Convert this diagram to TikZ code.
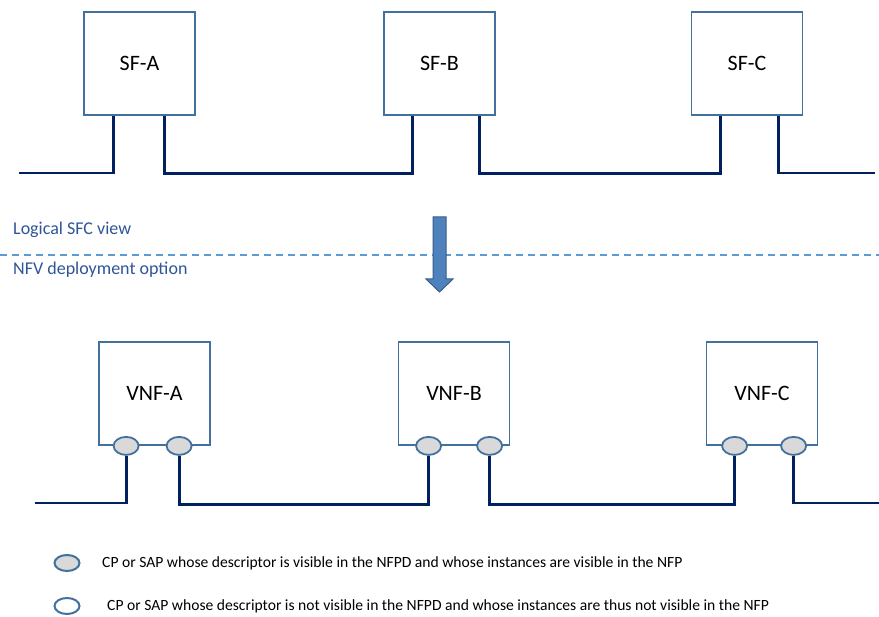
\documentclass[tikz,border=0pt]{standalone}
\usepackage{fontspec}
\setmainfont{Carlito}
\usetikzlibrary{shapes.geometric,calc}
\definecolor{boxc}{HTML}{41719C}
\definecolor{wirec}{HTML}{002060}
\definecolor{lblc}{HTML}{2F5597}
\definecolor{dashc}{HTML}{5B9BD5}
\definecolor{arrf}{HTML}{4F81BD}
\definecolor{arrd}{HTML}{385D8A}
\definecolor{portf}{HTML}{D9D9D9}
\begin{document}
\begin{tikzpicture}[x=1pt,y=-1pt,
  fbox/.style={draw=boxc,line width=1.8pt,fill=white,minimum width=111pt,minimum height=103pt,inner sep=0pt,font=\fontsize{22}{24}\selectfont},
  wire/.style={draw=wirec,line width=2.8pt,line join=miter},
  port/.style={ellipse,draw=boxc,line width=1.8pt,fill=portf,minimum width=25pt,minimum height=18pt,inner sep=0pt},
  oport/.style={ellipse,draw=boxc,line width=2pt,fill=white,minimum width=25pt,minimum height=16pt,inner sep=0pt},
  lgport/.style={ellipse,draw=boxc,line width=2pt,fill=portf,minimum width=25pt,minimum height=16pt,inner sep=0pt},
  viewlbl/.style={anchor=west,text=lblc,inner sep=0pt,font=\fontsize{18}{20}\selectfont},
  legtxt/.style={anchor=west,inner sep=0pt,font=\fontsize{15.6}{17}\selectfont}]
\useasboundingbox (0,0) rectangle (879,617);
\fill[white] (0,0) rectangle (879,617);

% top row
\node[fbox] (sfa) at (139.5,63.5) {SF-A};
\node[fbox] (sfb) at (439.5,63.5) {SF-B};
\node[fbox] (sfc) at (747,63.5) {SF-C};
\coordinate (sfal) at ($(sfa.south west)+(30,0)$);
\coordinate (sfar) at ($(sfa.south west)+(81,0)$);
\coordinate (sfbl) at ($(sfb.south west)+(29,0)$);
\coordinate (sfbr) at ($(sfb.south west)+(96,0)$);
\coordinate (sfcl) at ($(sfc.south west)+(30,0)$);
\coordinate (sfcr) at ($(sfc.south west)+(88,0)$);
\coordinate (t0) at (19,173);
\coordinate (t1) at (875,173);
\draw[wire] (t0) -| (sfal);
\draw[wire] (sfar) -- ++(0,58) -| (sfbl);
\draw[wire] (sfbr) -- ++(0,58) -| (sfcl);
\draw[wire] (sfcr) |- (t1);

% separator
\node[viewlbl] (lv) at (13,230) {Logical SFC view};
\node[viewlbl] (nv) at (13,270) {NFV deployment option};
\coordinate (d0) at (0,255);
\coordinate (d1) at (879,255);
\draw[dashc,line width=1.3pt,dash pattern=on 7pt off 5pt] (d0) -- (d1);
\draw[fill=arrf,draw=arrd,line width=1pt,line join=miter]
  (433,217) -- (446,217) -- (446,279) -- (453,279) -- (439.5,292) -- (426,279) -- (433,279) -- cycle;

% bottom row
\node[fbox] (vnfa) at (154.5,393.5) {VNF-A};
\node[fbox] (vnfb) at (454,393.5) {VNF-B};
\node[fbox] (vnfc) at (762,393.5) {VNF-C};
\node[port] (pa1) at ($(vnfa.south west)+(28,0)$) {};
\node[port] (pa2) at ($(vnfa.south west)+(81,0)$) {};
\node[port] (pb1) at ($(vnfb.south west)+(31,0)$) {};
\node[port] (pb2) at ($(vnfb.south west)+(92,0)$) {};
\node[port] (pc1) at ($(vnfc.south west)+(29,0)$) {};
\node[port] (pc2) at ($(vnfc.south west)+(88,0)$) {};
\coordinate (b0) at (35,503);
\coordinate (b1) at (879,503);
\draw[wire] (b0) -| (pa1.south);
\draw[wire] (pa2.south) -- ++(0,49) -| (pb1.south);
\draw[wire] (pb2.south) -- ++(0,49) -| (pc1.south);
\draw[wire] (pc2.south) |- (b1);

% legend
\node[lgport] (lg1) at (67,563) {};
\node[oport] (lg2) at (67,606) {};
\node[legtxt] (lt1) at (102,563) {CP or SAP whose descriptor is visible in the NFPD and whose instances are visible in the NFP};
\node[legtxt] (lt2) at (107,606) {CP or SAP whose descriptor is not visible in the NFPD and whose instances are thus not visible in the NFP};
\end{tikzpicture}
\end{document}
